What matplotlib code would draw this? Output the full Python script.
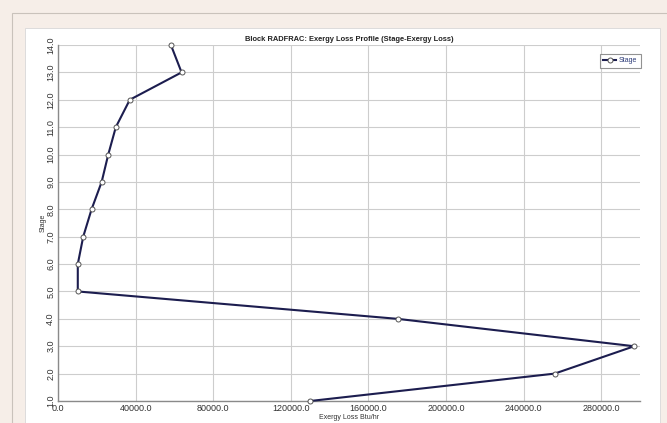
import matplotlib
matplotlib.use("Agg")
import matplotlib.pyplot as plt
from matplotlib.patches import Rectangle
from matplotlib.ticker import MultipleLocator, FormatStrFormatter

# Exergy loss per stage of the RADFRAC column
stages = [1, 2, 3, 4, 5, 6, 7, 8, 9, 10, 11, 12, 13, 14]
exergy_loss = [130000, 256000, 297000, 175000, 10200, 10200, 13000,
               17300, 22500, 25900, 29800, 37000, 63700, 58200]

title = "Block RADFRAC: Exergy Loss Profile (Stage-Exergy Loss)"
x_label = "Exergy Loss Btu/hr"
y_label = "Stage"
series_name = "Stage"

plt.rcParams['font.family'] = ['Liberation Sans Narrow', 'Liberation Sans', 'DejaVu Sans']

W, H = 667, 423
fig = plt.figure(figsize=(W / 100, H / 100), dpi=100)
fig.patch.set_facecolor("#f6eee8")

def px(x0, y0, x1, y1):
    """Convert a pixel box (top-left origin) to figure fractions."""
    return x0 / W, 1 - y1 / H, (x1 - x0) / W, (y1 - y0) / H

# outer frame and white plotting panel, drawn behind the axes
fx, fy, fw, fh = px(12, 13, 680, 440)
fig.add_artist(Rectangle((fx, fy), fw, fh, transform=fig.transFigure,
                         facecolor="none", edgecolor="#c9c2bb", lw=0.8,
                         zorder=-2))
fx, fy, fw, fh = px(25, 28, 660, 440)
fig.add_artist(Rectangle((fx, fy), fw, fh, transform=fig.transFigure,
                         facecolor="white", edgecolor="#d8d8d8", lw=0.6,
                         zorder=-1))

l, b, w, h = px(58, 45, 640, 401)
ax = fig.add_axes([l, b, w, h])
ax.set_facecolor("none")

ax.plot(exergy_loss, stages, color="#1c1d4f", lw=1.5,
        marker="o", markersize=3.6, markerfacecolor="white",
        markeredgecolor="#555555", markeredgewidth=0.7, label=series_name,
        zorder=3, clip_on=False)

ax.set_xlim(0, 300000)
ax.set_ylim(1, 14)
ax.xaxis.set_major_locator(MultipleLocator(40000))
ax.yaxis.set_major_locator(MultipleLocator(1))
ax.xaxis.set_major_formatter(FormatStrFormatter('%.1f'))
ax.yaxis.set_major_formatter(FormatStrFormatter('%.1f'))

ax.grid(True, color="#cdcdcd", lw=0.8)
ax.set_axisbelow(True)
for s in ("top", "right"):
    ax.spines[s].set_visible(False)
for s in ("left", "bottom"):
    ax.spines[s].set_color("#8a8a8a")
    ax.spines[s].set_linewidth(1.0)

ax.tick_params(axis="both", length=0, labelsize=6.5, colors="#333333", pad=2)
for t in ax.get_yticklabels():
    t.set_rotation(90)
    t.set_va("center")

ax.set_xlabel(x_label, fontsize=5, color="#333333", labelpad=1)
ax.set_ylabel(y_label, fontsize=5, color="#333333", labelpad=0)
ax.set_title(title, fontsize=5.4, fontweight="bold", color="#222222", pad=3)

leg = ax.legend(loc="upper right", bbox_to_anchor=(1.001, 0.975),
                fontsize=5, frameon=True, fancybox=False, handlelength=1.8,
                borderpad=0.5, handletextpad=0.4, borderaxespad=0)
leg.get_frame().set_edgecolor("#777777")
leg.get_frame().set_linewidth(0.8)
for t in leg.get_texts():
    t.set_color("#2b3a78")

fig.savefig("out.png", dpi=100, facecolor=fig.get_facecolor())
